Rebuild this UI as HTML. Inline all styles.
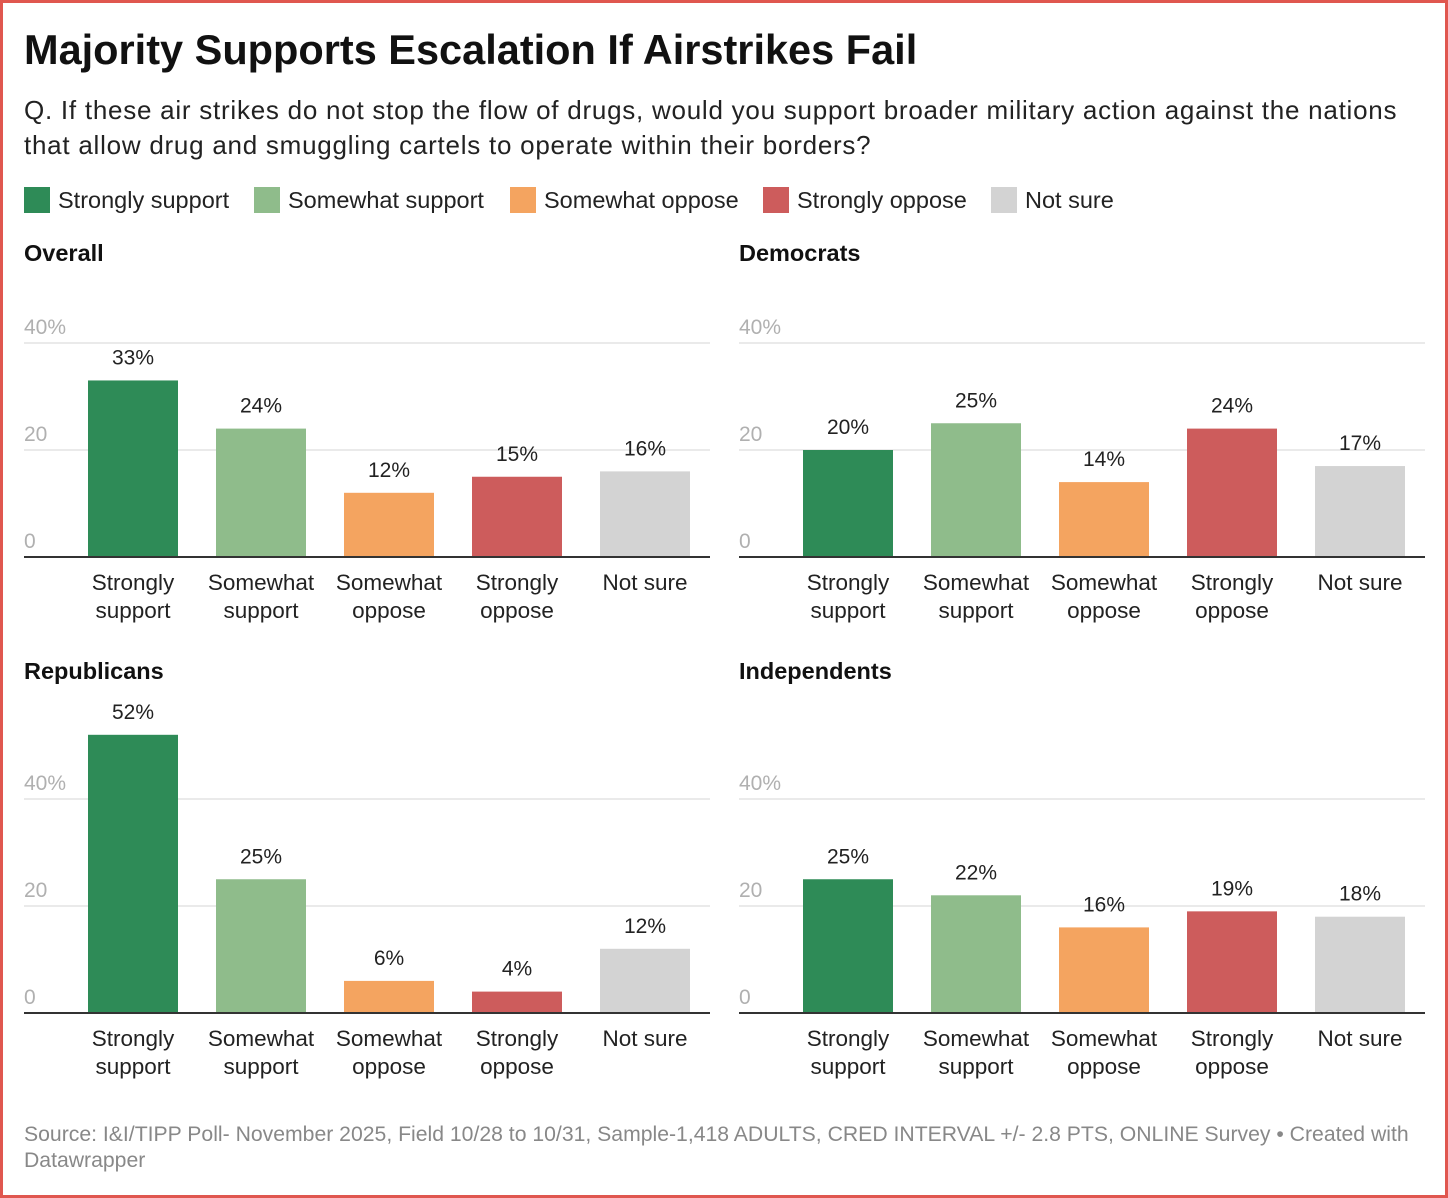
<!DOCTYPE html>
<html><head><meta charset="utf-8">
<style>
body{margin:0;width:1448px;height:1198px;background:#fff;font-family:"Liberation Sans",Roboto,sans-serif;overflow:hidden}
#frame{position:absolute;left:0;top:0;width:1442px;height:1192px;border:3px solid #e0574f}
.t{position:absolute;white-space:nowrap}
</style></head><body>
<div id="frame"></div>
<div class="t" style="left:24px;top:26px;font-size:41.5px;font-weight:bold;color:#111">Majority Supports Escalation If Airstrikes Fail</div>
<div class="t" style="left:24px;top:93px;font-size:26px;letter-spacing:0.75px;line-height:35px;color:#222;white-space:normal;width:1415px">Q. If these air strikes do not stop the flow of drugs, would you support broader military action against the nations that allow drug and smuggling cartels to operate within their borders?</div>
<div id="legend"></div>
<svg id="chart" width="1448" height="1198" style="position:absolute;left:0;top:0"></svg>
<div class="t" style="left:24px;top:1122px;font-size:21.2px;line-height:26px;color:#888;white-space:normal;width:1400px">Source: I&amp;I/TIPP Poll- November 2025, Field 10/28 to 10/31, Sample-1,418 ADULTS, CRED INTERVAL +/- 2.8 PTS, ONLINE Survey • Created with Datawrapper</div>
<script>
const categories=["Strongly support","Somewhat support","Somewhat oppose","Strongly oppose","Not sure"];
const catLines=[["Strongly","support"],["Somewhat","support"],["Somewhat","oppose"],["Strongly","oppose"],["Not sure"]];
const colors=["#2e8b57","#8fbc8b","#f4a460","#cd5c5c","#d3d3d3"];
const panels=["Overall","Democrats","Republicans","Independents"];
const overall=[33,24,12,15,16];
const democrats=[20,25,14,24,17];
const republicans=[52,25,6,4,12];
const independents=[25,22,16,19,18];
const ticks=[0,20,40];
const series=[overall,democrats,republicans,independents];
const NS="http://www.w3.org/2000/svg";
const svg=document.getElementById('chart');
function mk(tag,attrs,txt){const e=document.createElementNS(NS,tag);for(const k in attrs)e.setAttribute(k,attrs[k]);if(txt!=null)e.textContent=txt;svg.appendChild(e);return e;}
const lg=document.getElementById('legend');
const legX=[24,254,510,763,991];
categories.forEach((c,i)=>{
 const d=document.createElement('div');d.className='t';
 
 
 d.style.cssText=`left:${legX[i]}px;top:186px;font-size:23.5px;color:#222;line-height:28px`;
 d.innerHTML=`<span style="display:inline-block;width:26px;height:26px;background:${colors[i]};vertical-align:-5px;margin-right:8px"></span>${c}`;
 lg.appendChild(d);
});
const layout=[{x:24,base:557,title:253},{x:739,base:557,title:253},{x:24,base:1013,title:671},{x:739,base:1013,title:671}];
const pxPer=107/20;
panels.forEach((p,pi)=>{
 const L=layout[pi];const y=v=>L.base-v*pxPer;
 const t=mk('text',{x:L.x,y:L.title+8,'font-size':23.5,'font-weight':'bold',fill:'#111','font-family':'Liberation Sans, sans-serif'},p);
 
 
 ticks.forEach(tv=>{
  if(tv>0){const g=mk('line',{x1:L.x,x2:L.x+686,y1:y(tv),y2:y(tv),stroke:'#e3e3e3','stroke-width':1.5});
   
   }
  const tl=mk('text',{x:L.x,y:y(tv)-9,'font-size':21,fill:'#b0b0b0','font-family':'Liberation Sans, sans-serif'},tv===40?tv+'%':tv);
  
  
 });
 series[pi].forEach((v,i)=>{
  const bx=L.x+64+i*128;
  const r=mk('rect',{x:bx,y:y(v),width:90,height:v*pxPer,fill:colors[i]});
  
  
  const vl=mk('text',{x:bx+45,y:y(v)-16,'font-size':21,fill:'#222','text-anchor':'middle','font-family':'Liberation Sans, sans-serif'},v+'%');
  
  
  catLines[i].forEach((ln,li)=>{
   const cl=mk('text',{x:bx+45,y:L.base+33+li*28,'font-size':22.5,fill:'#222','text-anchor':'middle','font-family':'Liberation Sans, sans-serif'},ln);
   
   
  });
 });
 const b=mk('line',{x1:L.x,x2:L.x+686,y1:L.base,y2:L.base,stroke:'#333','stroke-width':2});
 
 
});
</script>
</body></html>
